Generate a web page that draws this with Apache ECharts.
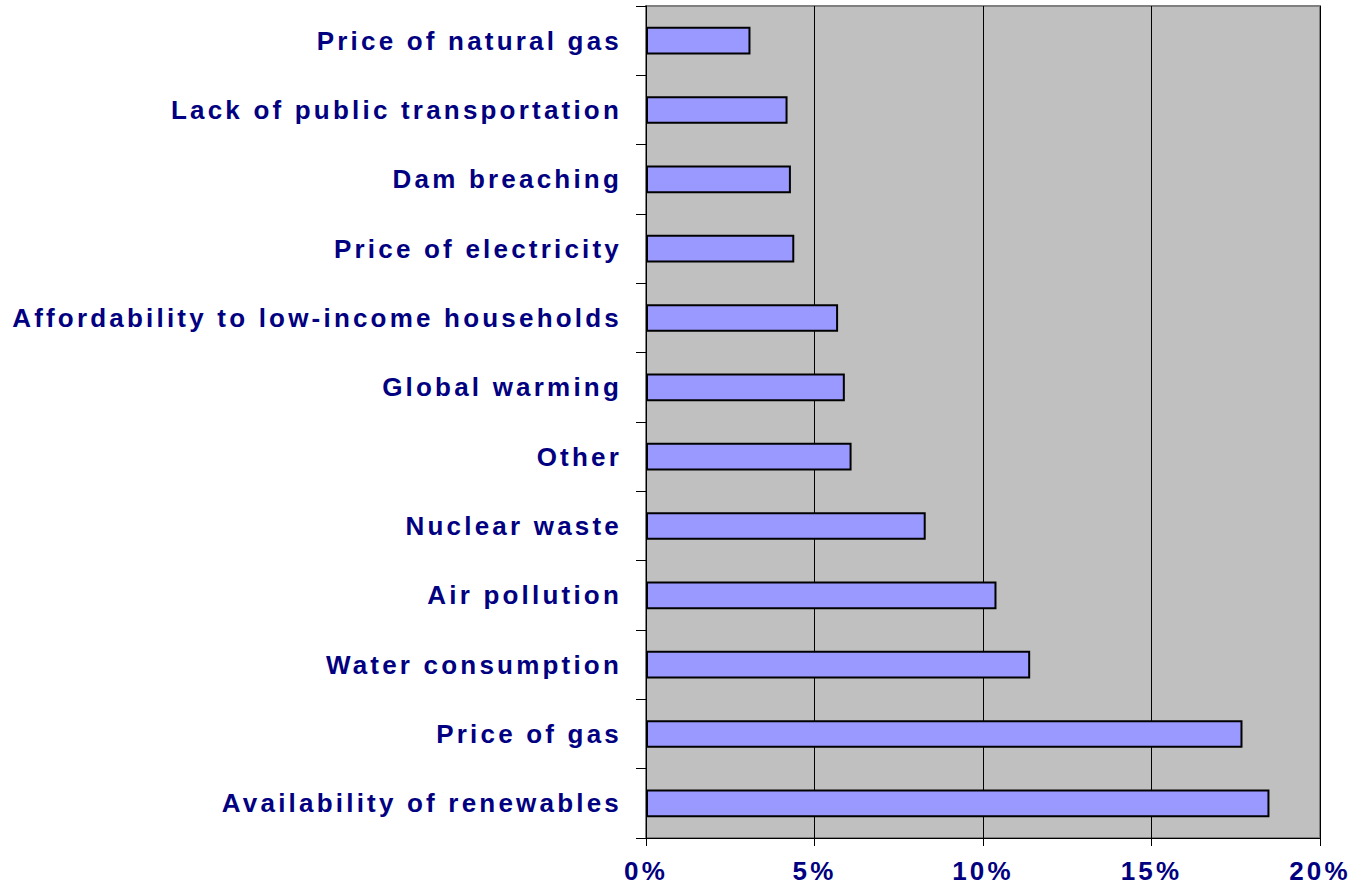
<!DOCTYPE html>
<html>
<head>
<meta charset="utf-8">
<script src="https://cdn.jsdelivr.net/npm/echarts@6/dist/echarts.min.js"></script>
<style>
  html, body { margin: 0; padding: 0; background: #fff; }
  #chart { width: 1353px; height: 887px; }
  /* the original labels are set with wide letter spacing */
  #chart svg text { letter-spacing: 3.2px; }
</style>
</head>
<body>
<div id="chart"></div>
<script>
// categories listed top to bottom
var categories = [
    'Price of natural gas',
    'Lack of public transportation',
    'Dam breaching',
    'Price of electricity',
    'Affordability to low-income households',
    'Global warming',
    'Other',
    'Nuclear waste',
    'Air pollution',
    'Water consumption',
    'Price of gas',
    'Availability of renewables'
];
var shares = [3.1, 4.2, 4.3, 4.4, 5.7, 5.9, 6.1, 8.3, 10.4, 11.4, 17.7, 18.5];

var myChart = echarts.init(document.getElementById('chart'), null, { renderer: 'svg' });
var navy = '#000080';

myChart.setOption({
    animation: false,
    grid: {
        left: 646,
        right: 33,
        top: 6,
        bottom: 49,
        show: true,
        backgroundColor: '#c0c0c0',
        borderColor: '#808080',
        borderWidth: 2
    },
    xAxis: {
        type: 'value',
        min: 0,
        max: 20,
        interval: 5,
        axisLine: { show: true, lineStyle: { color: '#000', width: 1 } },
        axisTick: { show: true, length: 8, lineStyle: { color: '#000' } },
        splitLine: { show: true, lineStyle: { color: '#000', width: 1 } },
        axisLabel: {
            formatter: '{value}%',
            color: navy,
            fontFamily: 'Liberation Sans',
            fontWeight: 'bold',
            fontSize: 26,
            margin: 20
        }
    },
    yAxis: {
        type: 'category',
        inverse: true,
        data: categories,
        axisLine: { show: true, lineStyle: { color: '#000', width: 1 } },
        axisTick: { show: true, length: 10, lineStyle: { color: '#000' } },
        axisLabel: {
            color: navy,
            fontFamily: 'Liberation Sans',
            fontWeight: 'bold',
            fontSize: 26,
            margin: 24
        }
    },
    series: [{
        type: 'bar',
        data: shares,
        barWidth: '40%',
        itemStyle: {
            color: '#9999ff',
            borderColor: '#000',
            borderWidth: 2
        }
    }]
});
</script>
</body>
</html>
